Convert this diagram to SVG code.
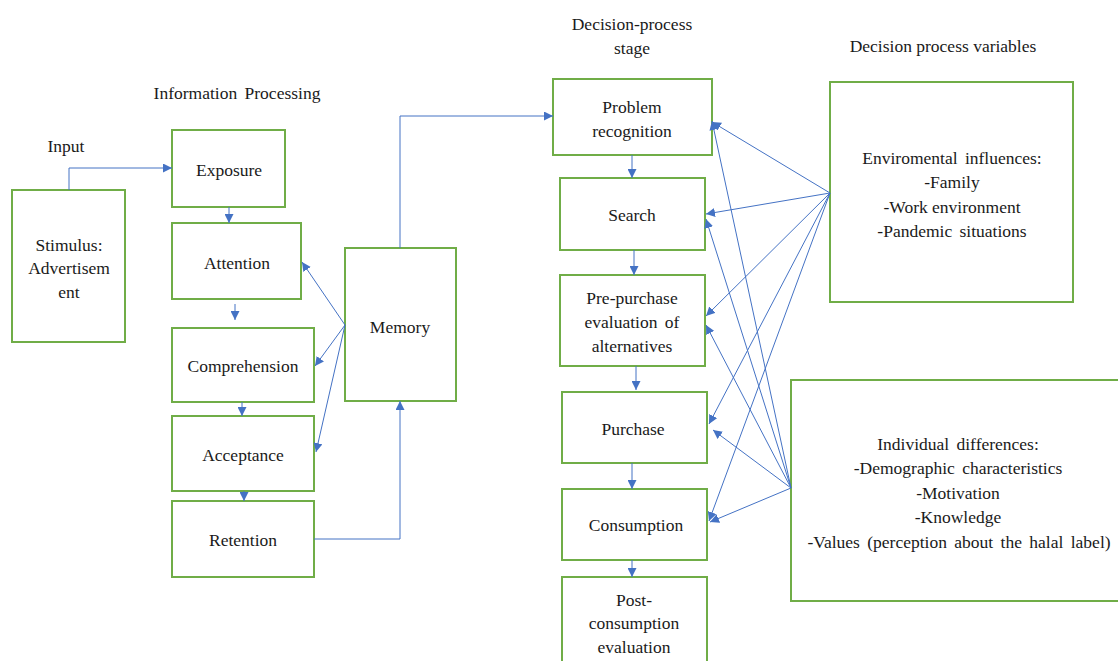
<svg xmlns="http://www.w3.org/2000/svg" width="1118" height="661" viewBox="0 0 1118 661">
<defs>
<marker id="ah" viewBox="0 0 10 10" refX="10" refY="5" markerWidth="9" markerHeight="9" markerUnits="userSpaceOnUse" orient="auto">
<path d="M0,0 L10,5 L0,10 z" fill="#4472C4"/>
</marker>
</defs>
<style>
.box{fill:#fff;stroke:#70AD47;stroke-width:2}
.t{font-size:17.5px;fill:#1a1a1a;text-anchor:middle}
.c{fill:none;stroke:#4472C4;stroke-width:1;marker-end:url(#ah)}
</style>
<rect width="1118" height="661" fill="#fff"/>
<g font-family="'Liberation Serif', 'Times New Roman', 'DejaVu Serif', serif">
<g id="titles">
<text class="t" x="66" y="152">Input</text>
<text class="t" x="237" y="99" word-spacing="3">Information Processing</text>
<text class="t" x="632" y="30">Decision-process</text>
<text class="t" x="632" y="54">stage</text>
<text class="t" x="943" y="52">Decision process variables</text>
</g>
<g id="stimulus"><rect class="box" x="12" y="190" width="113" height="152"/>
<text class="t" x="69" y="251">Stimulus:</text><text class="t" x="69" y="274">Advertisem</text><text class="t" x="69" y="298">ent</text></g>
<g id="exposure"><rect class="box" x="172" y="130" width="113" height="77"/><text class="t" x="229" y="176">Exposure</text></g>
<g id="attention"><rect class="box" x="172" y="223" width="129" height="76"/><text class="t" x="237" y="269">Attention</text></g>
<g id="comprehension"><rect class="box" x="172" y="328" width="142" height="74"/><text class="t" x="243" y="372">Comprehension</text></g>
<g id="acceptance"><rect class="box" x="172" y="416" width="142" height="75"/><text class="t" x="243" y="461">Acceptance</text></g>
<g id="retention"><rect class="box" x="172" y="501" width="142" height="76"/><text class="t" x="243" y="546">Retention</text></g>
<g id="memory"><rect class="box" x="345" y="248" width="111" height="153"/><text class="t" x="400" y="333">Memory</text></g>
<g id="problem"><rect class="box" x="553" y="79" width="159" height="76"/><text class="t" x="632" y="113">Problem</text><text class="t" x="632" y="137">recognition</text></g>
<g id="search"><rect class="box" x="560" y="178" width="145" height="72"/><text class="t" x="632" y="221">Search</text></g>
<g id="prepurchase"><rect class="box" x="560" y="275" width="145" height="91"/><text class="t" x="632" y="304">Pre-purchase</text><text class="t" x="632" y="328" word-spacing="3">evaluation of</text><text class="t" x="632" y="352">alternatives</text></g>
<g id="purchase"><rect class="box" x="562" y="392" width="145" height="71"/><text class="t" x="633" y="435">Purchase</text></g>
<g id="consumption"><rect class="box" x="562" y="489" width="145" height="71"/><text class="t" x="636" y="531">Consumption</text></g>
<g id="postconsumption"><rect class="box" x="562" y="577" width="145" height="100"/><text class="t" x="634" y="606">Post-</text><text class="t" x="634" y="629">consumption</text><text class="t" x="634" y="653">evaluation</text></g>
<g id="environment"><rect class="box" x="830" y="82" width="243" height="220"/>
<text class="t" x="952" y="164" word-spacing="3">Enviromental influences:</text><text class="t" x="952" y="188">-Family</text><text class="t" x="952" y="213">-Work environment</text><text class="t" x="952" y="237" word-spacing="3">-Pandemic situations</text></g>
<g id="individual"><rect class="box" x="791" y="380" width="340" height="221"/>
<text class="t" x="958" y="450" word-spacing="3">Individual differences:</text><text class="t" x="958" y="474" word-spacing="3">-Demographic characteristics</text><text class="t" x="958" y="499">-Motivation</text><text class="t" x="958" y="523">-Knowledge</text><text class="t" x="959" y="548" word-spacing="3">-Values (perception about the halal label)</text></g>
</g>
<g id="connectors">
<path class="c" d="M69,190 V168 H172"/>
<path class="c" d="M229,207 V223"/>
<path class="c" d="M235,304 V320"/>
<path class="c" d="M242,402 V416"/>
<path class="c" d="M244,491 V501"/>
<path class="c" d="M345,325 L302,262"/>
<path class="c" d="M345,325 L315,366"/>
<path class="c" d="M345,325 L316,452"/>
<path class="c" d="M314,539 H400 V401"/>
<path class="c" d="M400,248 V116 H553"/>
<path class="c" d="M632,155 V178"/>
<path class="c" d="M634,250 V275"/>
<path class="c" d="M636,366 V390"/>
<path class="c" d="M632,463 V489"/>
<path class="c" d="M632,560 V577"/>
<path class="c" d="M830,193 L712,122"/>
<path class="c" d="M830,193 L706,214"/>
<path class="c" d="M830,193 L706,316"/>
<path class="c" d="M830,193 L709,424"/>
<path class="c" d="M830,193 L709,521"/>
<path class="c" d="M791,488 L712,121"/>
<path class="c" d="M791,488 L706,219"/>
<path class="c" d="M791,488 L706,325"/>
<path class="c" d="M791,488 L713,430"/>
<path class="c" d="M791,488 L710,522"/>
</g>
</svg>
